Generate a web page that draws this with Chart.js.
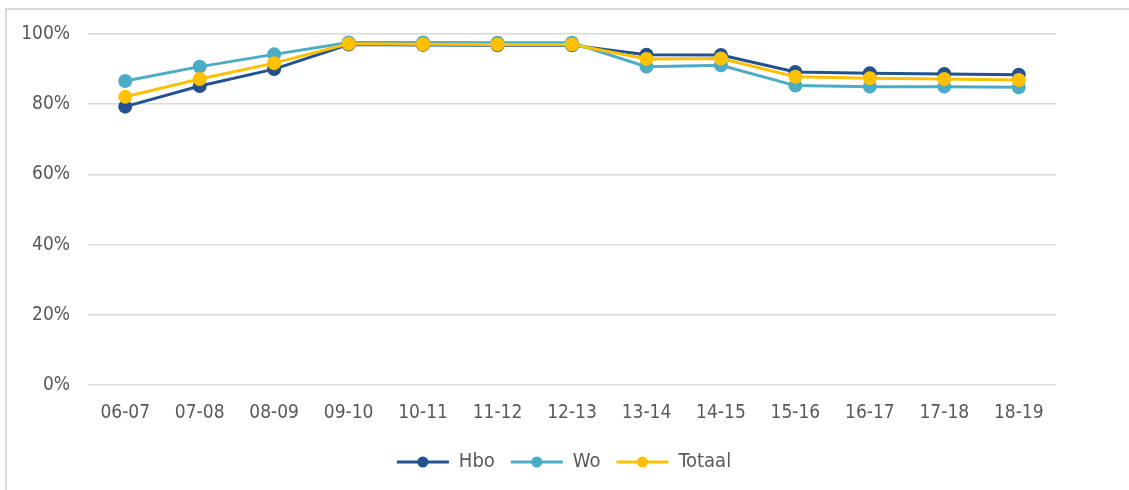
<!DOCTYPE html>
<html>
<head>
<meta charset="utf-8">
<script src="https://cdn.jsdelivr.net/npm/chart.js@4/dist/chart.umd.min.js"></script>
<style>
  html, body { margin: 0; padding: 0; background: #fff; }
  #wrap { position: relative; width: 1129px; height: 490px; overflow: hidden; }
  #frame { position: absolute; left: 5px; top: 8px; right: -5px; bottom: -5px;
           border-left: 2px solid #d9d9d9; border-top: 2px solid #d9d9d9; }
  canvas { position: absolute; left: 0; top: 0; }
</style>
</head>
<body>
<div id="wrap">
  <div id="frame"></div>
  <canvas id="chart" width="1129" height="490"></canvas>
</div>
<script>
const years = ['06-07', '07-08', '08-09', '09-10', '10-11', '11-12', '12-13',
               '13-14', '14-15', '15-16', '16-17', '17-18', '18-19'];
const hbo    = [79.3, 85.2, 90.0, 97.0, 96.9, 96.8, 96.8, 94.1, 94.0, 89.2, 88.8, 88.6, 88.4];
const wo     = [86.6, 90.7, 94.2, 97.6, 97.6, 97.5, 97.5, 90.7, 91.1, 85.3, 85.0, 85.0, 84.8];
const totaal = [82.1, 87.2, 91.7, 97.2, 97.1, 97.0, 97.0, 92.9, 93.0, 87.8, 87.4, 87.2, 86.9];
const yTicks = [0, 20, 40, 60, 80, 100];

const FONT = '"DejaVu Sans Condensed", "DejaVu Sans", sans-serif';
const TXT = '#595959';

// dots on the legend lines, legend nudged right like the original
const legendDots = {
  id: 'legendDots',
  afterLayout(chart) {
    chart.legend.left += 36;
    chart.legend.right += 36;
  },
  afterDraw(chart) {
    const lg = chart.legend;
    const ctx = chart.ctx;
    const bw = lg.options.labels.boxWidth;
    lg.legendItems.forEach((it, i) => {
      const hb = lg.legendHitBoxes[i];
      ctx.save();
      ctx.fillStyle = it.strokeStyle;
      ctx.beginPath();
      ctx.arc(hb.left + bw / 2, hb.top + hb.height / 2, 5.5, 0, Math.PI * 2);
      ctx.fill();
      ctx.restore();
    });
  }
};

function ds(label, data, color, order) {
  return {
    label: label, data: data, order: order,
    borderColor: color, backgroundColor: color,
    pointBackgroundColor: color, pointBorderColor: color,
    borderWidth: 3, pointRadius: 5.5, pointHoverRadius: 5.5,
    tension: 0
  };
}

new Chart(document.getElementById('chart'), {
  type: 'line',
  data: {
    labels: years,
    datasets: [
      ds('Hbo', hbo, '#22528f', 2),
      ds('Wo', wo, '#4bacc6', 1),
      ds('Totaal', totaal, '#ffc000', 0)
    ]
  },
  options: {
    responsive: false,
    animation: false,
    layout: { padding: { left: 0, right: 73, top: 34, bottom: 8 } },
    plugins: {
      tooltip: { enabled: false },
      legend: {
        position: 'bottom',
        labels: {
          boxWidth: 52, boxHeight: 0, padding: 16,
          color: TXT, font: { family: FONT, size: 20 },
          sort: (a, b) => a.datasetIndex - b.datasetIndex
        }
      }
    },
    scales: {
      x: {
        offset: true,
        grid: { display: false },
        border: { display: false },
        ticks: { color: TXT, font: { family: FONT, size: 19 }, padding: 9, maxRotation: 0 },
        afterFit: s => { s.height = 51; }
      },
      y: {
        min: 0, max: 100,
        afterBuildTicks: s => { s.ticks = yTicks.map(v => ({ value: v })); },
        grid: { color: '#d9d9d9', lineWidth: 1.5, drawTicks: false },
        border: { display: false },
        ticks: { color: TXT, font: { family: FONT, size: 19 }, padding: 18, callback: v => v + '%' },
        afterFit: s => { s.width = 88; }
      }
    }
  },
  plugins: [legendDots]
});
</script>
</body>
</html>
